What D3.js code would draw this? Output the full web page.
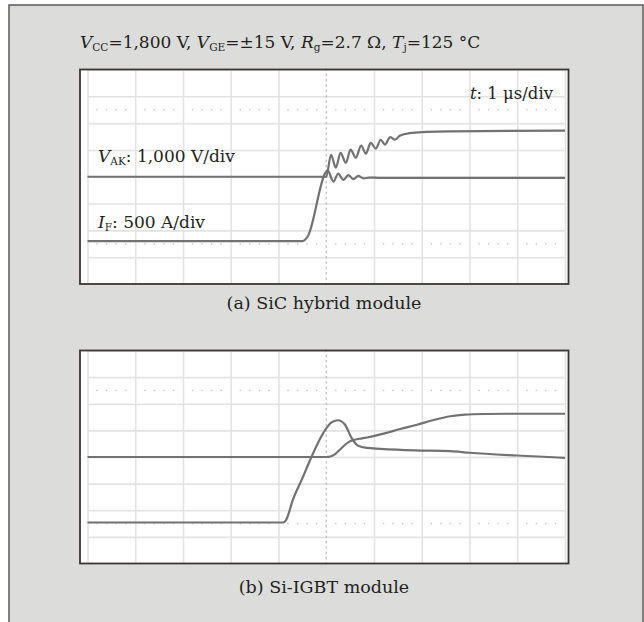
<!DOCTYPE html>
<html>
<head>
<meta charset="utf-8">
<script src="https://cdn.jsdelivr.net/npm/d3@7"></script>
<style>
  body { margin: 0; background: #fff; }
  text { font-family: "DejaVu Serif", serif; fill: #231f20; }
</style>
</head>
<body>
<div id="chart"></div>
<script>
// oscilloscope captures, time in us (1 us/div), V_AK in V (1000 V/div), I_F in A (500 A/div)
const sicIfTime = [0, 4.5, 4.56, 4.62, 4.98, 5.03, 5.15, 5.25, 5.36, 5.46, 5.57, 5.67, 5.78, 5.9, 6.1, 10];
const sicIfAmp  = [-1200, -1200, -1170, -1100, 70, 120, -90, 60, -60, 30, -45, 15, -30, -15, -20, -20];
const sicVakTime = [0, 5.0, 5.1, 5.2, 5.3, 5.41, 5.51, 5.62, 5.73, 5.83, 5.93, 6.04, 6.14, 6.23, 6.34, 6.44, 6.54, 6.75, 7.1, 7.6, 10];
const sicVakVolt = [0, 0, 820, 340, 890, 520, 1010, 710, 1160, 860, 1260, 1050, 1380, 1200, 1480, 1380, 1530, 1630, 1670, 1695, 1720];

const igbtIfTime = [0, 4.1, 4.16, 4.31, 4.49, 4.69, 4.94, 5.11, 5.25, 5.39, 5.53, 5.67, 5.85, 6.13, 6.85, 7.6, 8.0, 9.0, 10];
const igbtIfAmp  = [-1230, -1230, -1180, -780, -420, 0, 454, 650, 690, 610, 360, 210, 170, 154, 125, 109, 80, 28, -15];
const igbtVakTime = [0, 5.0, 5.1, 5.2, 5.3, 5.4, 5.5, 5.6, 5.75, 5.9, 6.2, 6.55, 6.9, 7.25, 7.6, 7.9, 8.3, 9, 10];
const igbtVakVolt = [0, 0, 30, 130, 300, 470, 590, 650, 700, 750, 880, 1050, 1210, 1390, 1530, 1590, 1615, 1625, 1625];

const captions = ["(a) SiC hybrid module", "(b) Si-IGBT module"];

const W = 644, H = 622;
const svg = d3.select("#chart").append("svg")
  .attr("width", W)
  .attr("height", H);

// grey outer panel
svg.append("rect")
  .attr("x", 9).attr("y", 5)
  .attr("width", 634).attr("height", 640)
  .attr("fill", "#dcdddb")
  .attr("stroke", "#5c5a5a")
  .attr("stroke-width", 1.5);

// italic symbol + subscript + rest of the text
function sym(t, letter, sub, rest) {
  t.append("tspan").attr("font-style", "italic").text(letter);
  t.append("tspan").attr("font-size", "0.62em").attr("dy", 3).text(sub);
  t.append("tspan").attr("dy", -3).text(rest);
}

const title = svg.append("text")
  .attr("x", 80).attr("y", 48)
  .attr("font-size", "17px");
sym(title, "V", "CC", "=1,800 V, ");
sym(title, "V", "GE", "=±15 V, ");
sym(title, "R", "g", "=2.7 Ω, ");
sym(title, "T", "j", "=125 °C");

const panels = [
  { top: 69.5, bottom: 284, ifT: sicIfTime, ifA: sicIfAmp, vT: sicVakTime, vV: sicVakVolt, capY: 309 },
  { top: 350.5, bottom: 563.5, ifT: igbtIfTime, ifA: igbtIfAmp, vT: igbtVakTime, vV: igbtVakVolt, capY: 593 }
];

const x = d3.scaleLinear().domain([0, 10]).range([87.5, 565]);

panels.forEach((p, i) => {
  const yDiv = d3.scaleLinear().domain([0, 8]).range([p.bottom, p.top]);
  const yV = d3.scaleLinear().domain([-4000, 4000]).range([p.bottom, p.top]);
  const yI = d3.scaleLinear().domain([-2000, 2000]).range([p.bottom, p.top]);

  const g = svg.append("g");

  g.append("rect")
    .attr("x", 80).attr("y", p.top)
    .attr("width", 488.5).attr("height", p.bottom - p.top)
    .attr("fill", "#fff");

  // grid from axes
  const xGrid = g.append("g")
    .attr("transform", `translate(0, ${p.bottom})`)
    .call(d3.axisBottom(x).tickValues(d3.range(0, 11).filter(d => d !== 5))
      .tickSize(-(p.bottom - p.top)).tickFormat(""));
  const yGrid = g.append("g")
    .attr("transform", `translate(${x(0)}, 0)`)
    .call(d3.axisLeft(yDiv).tickValues(d3.range(0, 9))
      .tickSize(-(x(10) - x(0))).tickFormat(""));
  [xGrid, yGrid].forEach(a => {
    a.select(".domain").remove();
    a.selectAll("line").attr("stroke", "#e3e3e3").attr("stroke-width", 1.6);
  });

  // dotted minor marks: center vertical, and rows at 1.5 / 6.5 div
  const minorX = d3.range(0, 10.01, 0.2).filter(d => Math.abs(d - Math.round(d)) > 0.01);
  [1.5, 6.5].forEach(r => {
    g.selectAll(null).data(minorX).join("rect")
      .attr("x", d => x(d) - 0.7).attr("y", yDiv(r) - 0.7)
      .attr("width", 1.4).attr("height", 1.4)
      .attr("fill", "#c4c4c4");
  });
  const minorY = d3.range(0, 8.01, 0.2);
  g.selectAll(null).data(minorY).join("rect")
    .attr("x", x(5) - 0.6).attr("y", d => yDiv(d) - 1.2)
    .attr("width", 1.2).attr("height", 2.4)
    .attr("fill", "#b8b8b8");

  // traces
  const lineI = d3.line().x(d => x(d[0])).y(d => yI(d[1])).curve(d3.curveMonotoneX);
  const lineV = d3.line().x(d => x(d[0])).y(d => yV(d[1])).curve(d3.curveMonotoneX);
  g.append("path")
    .attr("d", lineI(d3.zip(p.ifT, p.ifA)))
    .attr("fill", "none").attr("stroke", "#727272").attr("stroke-width", 2.2)
    .attr("stroke-linejoin", "round");
  g.append("path")
    .attr("d", lineV(d3.zip(p.vT, p.vV)))
    .attr("fill", "none").attr("stroke", "#727272").attr("stroke-width", 2.2)
    .attr("stroke-linejoin", "round");

  // frame
  g.append("rect")
    .attr("x", 80).attr("y", p.top)
    .attr("width", 488.5).attr("height", p.bottom - p.top)
    .attr("fill", "none")
    .attr("stroke", "#3b3634")
    .attr("stroke-width", 1.8);

  svg.append("text")
    .attr("x", 324).attr("y", p.capY)
    .attr("text-anchor", "middle")
    .attr("font-size", "17.5px")
    .text(captions[i]);
});

// channel labels in first plot
const vLab = svg.append("text").attr("x", 98).attr("y", 162).attr("font-size", "17px");
sym(vLab, "V", "AK", ": 1,000 V/div");
const iLab = svg.append("text").attr("x", 98).attr("y", 228).attr("font-size", "17px");
sym(iLab, "I", "F", ": 500 A/div");
const tLab = svg.append("text").attr("x", 553).attr("y", 99).attr("font-size", "16.5px")
  .attr("text-anchor", "end");
tLab.append("tspan").attr("font-style", "italic").text("t");
tLab.append("tspan").text(": 1 μs/div");
</script>
</body>
</html>
